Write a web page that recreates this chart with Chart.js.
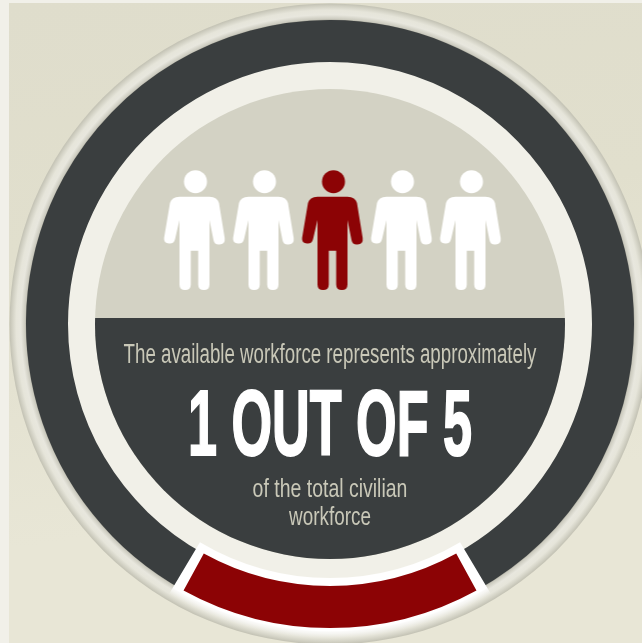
<!DOCTYPE html>
<html lang="en">
<head>
<meta charset="UTF-8">
<title>Available workforce</title>
<style>
  html, body { margin: 0; padding: 0; }
  body { width: 642px; height: 643px; overflow: hidden; position: relative; background: #f1f0e9; }
  .panel { position: absolute; left: 9px; top: 3px; right: 0; bottom: 0;
    background: linear-gradient(172deg, #dfddcc 0%, #e1dfcd 35%, #e8e6d6 75%, #e8e6d6 100%); }
  canvas { position: absolute; display: block; }
  #ringChart { left: 0; top: 0; }
  #peopleChart { left: 160px; top: 150px; }
  .line { position: absolute; left: 329.5px; white-space: nowrap; line-height: 1;
    font-family: "Liberation Sans Narrow", "Liberation Sans", sans-serif; color: #c9c8b8; }
  .big { font-weight: bold; color: #fff; -webkit-text-stroke: 2px #fff; }
</style>
</head>
<body>
  <div class="panel"></div>
  <canvas id="ringChart" width="642" height="643"></canvas>
  <canvas id="peopleChart" width="345" height="160"></canvas>
  <div class="line" style="top:341px;font-size:27px" data-w="413" id="line1"></div>
  <div class="line big" style="top:377px;font-size:93px" data-w="284" id="line2"></div>
  <div class="line" style="top:475px;font-size:26px" data-w="155" id="line3"></div>
  <div class="line" style="top:503px;font-size:26px" data-w="82" id="line4"></div>

<script src="https://cdn.jsdelivr.net/npm/chart.js@4"></script>
<script>
  const shareLabels = ['Rest of civilian workforce', 'Available workforce'];
  const shareValues = [84, 16];
  const shareColors = ['#3a3e3f', '#8c0305'];

  const peopleX = [1, 2, 3, 4, 5];
  const peopleY = [0, 0, 0, 0, 0];
  const peopleHighlighted = [false, false, true, false, false];

  const textLines = [
    'The available workforce represents approximately',
    '1 OUT OF 5',
    'of the total civilian',
    'workforce'
  ];

  textLines.forEach((text, i) => {
    const el = document.getElementById('line' + (i + 1));
    el.textContent = text;
    el.style.transform = `translateX(-50%) scaleX(${el.dataset.w / el.offsetWidth})`;
  });

  // bevel behind the ring, light gap, two-tone plate in the middle
  const faceplate = {
    id: 'faceplate',
    beforeDatasetsDraw(chart) {
      const { x, y } = chart.getDatasetMeta(0).data[0];
      const ctx = chart.ctx;
      const bevel = ctx.createRadialGradient(x, y, 303, x, y, 321);
      bevel.addColorStop(0, '#85857c');
      bevel.addColorStop(0.1, '#cbcabe');
      bevel.addColorStop(0.35, '#e8e7de');
      bevel.addColorStop(0.6, '#e6e5da');
      bevel.addColorStop(0.82, '#d2d1c4');
      bevel.addColorStop(1, '#bfbeb0');
      ctx.save();
      ctx.fillStyle = bevel;
      ctx.beginPath();
      ctx.arc(x, y, 320.5, 0, Math.PI * 2);
      ctx.fill();
      ctx.fillStyle = '#f1f0e8';
      ctx.beginPath();
      ctx.arc(x, y, 270, 0, Math.PI * 2);
      ctx.fill();
      ctx.fillStyle = '#d3d2c4';
      ctx.beginPath();
      ctx.arc(x, y, 235, 0, Math.PI * 2);
      ctx.fill();
      ctx.clip();
      ctx.fillStyle = '#3a3e3f';
      ctx.fillRect(x - 240, 318, 480, 250);
      ctx.restore();
    },
    // white band under the highlighted slice, then the slice again on top
    afterDatasetsDraw(chart) {
      const slice = chart.getDatasetMeta(0).data[1];
      const ctx = chart.ctx;
      const pad = 2 * Math.PI / 180;
      const band = ctx.createRadialGradient(slice.x, slice.y, 254, slice.x, slice.y, 314);
      band.addColorStop(0, '#ffffff');
      band.addColorStop(0.88, '#ffffff');
      band.addColorStop(1, 'rgba(255,255,255,0)');
      ctx.save();
      ctx.fillStyle = band;
      ctx.beginPath();
      ctx.arc(slice.x, slice.y, 314, slice.startAngle - pad, slice.endAngle + pad);
      ctx.arc(slice.x, slice.y, 254, slice.endAngle + pad, slice.startAngle - pad, true);
      ctx.closePath();
      ctx.fill();
      ctx.restore();
      slice.draw(ctx);
    }
  };

  new Chart(document.getElementById('ringChart'), {
    type: 'doughnut',
    data: {
      labels: shareLabels,
      datasets: [{
        data: shareValues,
        backgroundColor: shareColors,
        borderWidth: 0
      }]
    },
    options: {
      responsive: false,
      animation: false,
      radius: 304,
      cutout: 262,
      rotation: 180 + shareValues[1] / (shareValues[0] + shareValues[1]) * 180,
      layout: { padding: { left: 26, top: 20, right: 8, bottom: 15 } },
      plugins: { legend: { display: false }, tooltip: { enabled: false } }
    },
    plugins: [faceplate]
  });

  function personIcon(color) {
    const icon = document.createElement('canvas');
    icon.width = 68;
    icon.height = 124;
    const c = icon.getContext('2d');
    c.fillStyle = color;
    c.translate(34, -168);
    c.beginPath();
    c.arc(1, 181.7, 11.5, 0, Math.PI * 2);
    c.fill();
    c.beginPath();
    c.moveTo(-15, 196.7);
    c.lineTo(15, 196.7);
    c.quadraticCurveTo(23, 197, 24.5, 203);
    c.lineTo(30.2, 238);
    c.quadraticCurveTo(31, 244, 25, 244.5);
    c.quadraticCurveTo(20, 245, 19, 240);
    c.lineTo(15, 220);
    c.lineTo(15, 284.5);
    c.quadraticCurveTo(15, 290, 9.4, 290);
    c.quadraticCurveTo(3.7, 290, 3.7, 284.5);
    c.lineTo(3.7, 250.7);
    c.lineTo(-3.7, 250.7);
    c.lineTo(-3.7, 284.5);
    c.quadraticCurveTo(-3.7, 290, -9.4, 290);
    c.quadraticCurveTo(-15, 290, -15, 284.5);
    c.lineTo(-15, 220);
    c.lineTo(-19.4, 239);
    c.quadraticCurveTo(-20.5, 244, -25.5, 243.5);
    c.quadraticCurveTo(-31, 243, -30.4, 238);
    c.lineTo(-24.5, 203);
    c.quadraticCurveTo(-23, 197, -15, 196.7);
    c.closePath();
    c.fill();
    return icon;
  }

  const plainPerson = personIcon('#ffffff');
  const redPerson = personIcon('#8c0305');

  new Chart(document.getElementById('peopleChart'), {
    type: 'scatter',
    data: {
      datasets: [{
        data: peopleX.map((x, i) => ({ x, y: peopleY[i] })),
        pointStyle: ctx => peopleHighlighted[ctx.dataIndex] ? redPerson : plainPerson,
        pointRadius: 30,
        clip: false
      }]
    },
    options: {
      responsive: false,
      animation: false,
      layout: { autoPadding: false },
      scales: {
        x: { display: false, min: 0.5, max: 5.5 },
        y: { display: false, min: -1, max: 1 }
      },
      plugins: { legend: { display: false }, tooltip: { enabled: false } }
    }
  });
</script>
</body>
</html>
